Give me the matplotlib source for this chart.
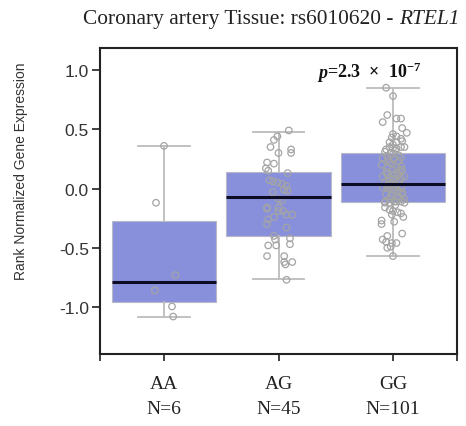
import matplotlib
matplotlib.use("Agg")
import matplotlib.pyplot as plt
import numpy as np

plt.rcParams["mathtext.fontset"] = "custom"
plt.rcParams["mathtext.rm"] = "Liberation Serif:bold"
plt.rcParams["mathtext.it"] = "Liberation Serif:italic:bold"
plt.rcParams["mathtext.bf"] = "Liberation Serif:bold"

# ---------------- data ----------------
genotypes = ["AA", "AG", "GG"]
counts = [6, 45, 101]
p_text = "2.3"
p_exp = "-7"

# box statistics
medians = [-0.79, -0.07, 0.04]
q1s = [-0.96, -0.40, -0.11]
q3s = [-0.27, 0.14, 0.30]
whis_lo = [-1.08, -0.76, -0.57]
whis_hi = [0.36, 0.48, 0.85]

# individual points (values) and their horizontal jitter
aa_vals = [0.36, -0.12, -0.73, -0.86, -0.995, -1.08]
aa_jit = [0.0, -0.07, 0.10, -0.08, 0.07, 0.08]

ag_vals = [0.49, 0.44, 0.41, 0.35, 0.33, 0.30, 0.30, 0.22, 0.21, 0.17, 0.15, 0.13,
           0.07, 0.06, 0.05, 0.04, 0.02, -0.01, -0.02, -0.03, -0.09, -0.16, -0.16,
           -0.17, -0.19, -0.19, -0.22, -0.22, -0.24, -0.26, -0.30, -0.33, -0.40,
           -0.43, -0.42, -0.48, -0.48, -0.47, -0.57, -0.57, -0.62, -0.64, -0.62,
           -0.77, -0.10]
ag_jit = [0.09, -0.01, -0.04, -0.07, 0.11, 0.11, 0.0, -0.10, -0.04, -0.11, -0.09, 0.08,
          -0.08, -0.05, -0.01, 0.03, 0.07, 0.05, 0.08, -0.05, 0.0, -0.10, 0.0,
          -0.10, 0.0, 0.04, 0.07, 0.12, -0.04, -0.09, -0.10, 0.07, -0.04,
          -0.03, 0.10, -0.09, -0.02, 0.10, -0.10, 0.05, 0.05, 0.06, 0.12,
          0.07, 0.03]

gg_vals = [0.85, 0.78, 0.62, 0.56, 0.59, 0.59, 0.51, 0.47, 0.46, 0.43, 0.44, 0.42,
           0.40, 0.39, 0.37, 0.39,
           0.35, 0.34, 0.33, 0.31, 0.34, 0.35, 0.35,
           0.26, 0.27, 0.29, 0.26, 0.20, 0.22, 0.19, 0.16, 0.14, 0.16, 0.13,
           0.10, 0.09, 0.12, 0.09, 0.10, 0.05, 0.06, 0.04, 0.05,
           0.01, 0.01, -0.01, 0.01, -0.03, -0.05, -0.04, -0.07, -0.05,
           -0.11, -0.09, -0.11, -0.09,
           -0.12, -0.12, -0.11, -0.11, -0.12, -0.16, -0.18, -0.19,
           -0.22, -0.21, -0.24, -0.27, -0.30, -0.28, -0.40, -0.38,
           -0.43, -0.45, -0.46, -0.46, -0.50, -0.49, -0.57,
           0.32, 0.30, 0.28, 0.25, 0.24, 0.23, 0.21, 0.18, 0.17, 0.15, 0.12,
           0.11, 0.08, 0.07, 0.03, 0.02, 0.00, -0.02, -0.06, -0.08, -0.14, -0.20]
gg_jit = [-0.06, 0.0, -0.05, -0.09, 0.03, 0.07, 0.08, 0.12, 0.0, -0.01, 0.03, 0.07,
          0.08, -0.03, 0.0, 0.03,
          -0.03, 0.0, -0.06, -0.07, 0.03, 0.07, 0.10,
          -0.09, -0.05, 0.0, 0.07, -0.10, -0.03, 0.07, 0.08, -0.06, 0.0, 0.04,
          -0.09, -0.03, 0.01, 0.07, 0.10, -0.07, -0.03, 0.0, 0.04,
          -0.09, -0.05, 0.01, 0.07, 0.08, -0.06, 0.0, 0.04, 0.08,
          -0.07, -0.03, 0.03, 0.10,
          -0.07, -0.03, 0.01, 0.07, 0.10, -0.07, -0.03, 0.0,
          -0.01, 0.07, 0.09, -0.10, -0.10, 0.01, -0.05, 0.08,
          -0.09, -0.06, -0.01, 0.03, -0.05, -0.02, 0.0,
          0.02, -0.02, 0.05, 0.01, -0.04, 0.05, -0.01, 0.03, -0.05, 0.06, -0.05,
          0.04, 0.00, 0.06, -0.05, 0.03, -0.02, 0.05, -0.02, 0.06, 0.02, 0.04]

points = [(aa_vals, aa_jit), (ag_vals, ag_jit), (gg_vals, gg_jit)]

# ---------------- figure ----------------
W, H = 466, 427
fig = plt.figure(figsize=(W / 100, H / 100), dpi=100)
ax = fig.add_axes([100 / W, 1 - 355 / H, (457 - 100) / W, (355 - 49) / H])

serif = "Liberation Serif"
sans = "Liberation Sans"

box_color = "#8890dc"
stats = []
for i, g in enumerate(genotypes):
    stats.append(dict(med=medians[i], q1=q1s[i], q3=q3s[i],
                      whislo=whis_lo[i], whishi=whis_hi[i], fliers=[], label=g))

pos = np.arange(len(genotypes))
ax.bxp(stats, positions=pos, widths=0.91, capwidths=0.45, patch_artist=True,
       showfliers=False,
       boxprops=dict(facecolor=box_color, edgecolor="#b8b8c8", linewidth=0.8),
       whiskerprops=dict(color="#bcbcbc", linewidth=1.3),
       capprops=dict(color="#bcbcbc", linewidth=1.3),
       medianprops=dict(color="#0c0c24", linewidth=2.2, zorder=5))

for i, (vals, jit) in enumerate(points):
    ax.scatter(pos[i] + np.array(jit), vals, s=22, facecolors="none",
               edgecolors="#a4a4a4", linewidths=0.9, zorder=4)

ax.set_xlim(-0.559, 2.559)
ax.set_ylim(-1.396, 1.1855)
ax.set_yticks([-1.0, -0.5, 0.0, 0.5, 1.0])
ax.set_yticklabels(["-1.0", "-0.5", "0.0", "0.5", "1.0"], fontfamily=sans,
                   fontsize=12.5, color="#333333")
ax.set_xticks(pos)
ax.set_xticklabels([f"{g}\nN={n}" for g, n in zip(genotypes, counts)],
                   fontfamily=serif, fontsize=14, color="#222222", linespacing=1.6)
ax.set_xticks([-0.559, 2.559], minor=True)
ax.tick_params(axis="x", which="both", direction="out", length=5, width=1.3,
               pad=10, color="#333333")
ax.tick_params(axis="y", direction="out", length=6, width=1.3, pad=2, color="#333333")
for sp in ax.spines.values():
    sp.set_linewidth(1.5)
    sp.set_color("#222222")

# y label
fig.text(21 / W, 1 - 171 / H, "Rank Normalized Gene Expression", rotation=90,
         ha="center", va="center", fontfamily=sans, fontsize=10, color="#333333")

# title
t1 = fig.text(83 / W, 1 - 24 / H, "Coronary artery Tissue: rs6010620 - ",
              fontfamily=serif, fontsize=15.4, color="#222222", ha="left",
              va="baseline")
ax.annotate("RTEL1", xy=(1, 0), xycoords=t1, xytext=(0, 0),
            textcoords="offset points", fontfamily=serif, fontsize=15.4,
            style="italic", color="#222222", ha="left", va="bottom",
            annotation_clip=False)

# p-value annotation
tp = ax.text(0.612, 0.905, "p", transform=ax.transAxes, fontfamily=serif,
             fontsize=13, style="italic", fontweight="bold", color="#111111",
             ha="left", va="baseline")
ax.annotate(f"={p_text}  \u00d7  10$^{{{p_exp}}}$", xy=(1, 0), xycoords=tp,
            fontfamily=serif, fontsize=13, fontweight="bold",
            color="#111111", ha="left", va="bottom", annotation_clip=False)

fig.savefig("out.png", dpi=100)
